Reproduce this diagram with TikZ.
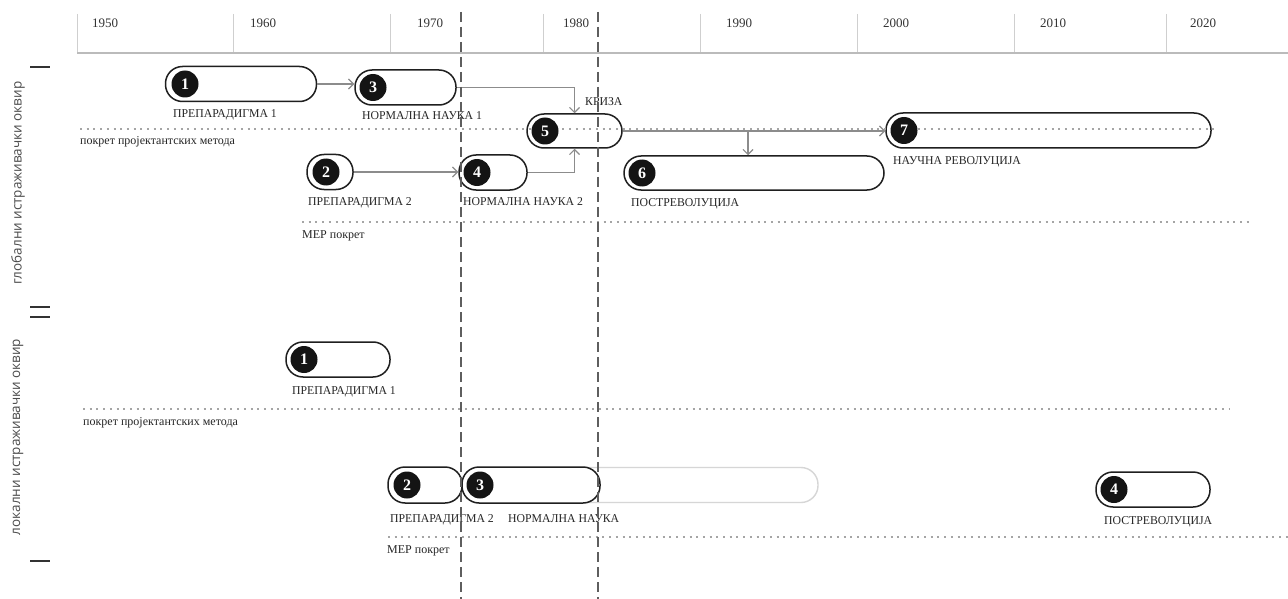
\documentclass[tikz,border=0pt]{standalone}
\usepackage{fontspec}
\setmainfont{Liberation Serif}
\newfontfamily\cond[FakeStretch=0.98]{Liberation Serif}
\newfontfamily\sidef{Open Sans}
\usetikzlibrary{arrows.meta}
\definecolor{dashc}{HTML}{5E5E5E}
\definecolor{connc}{HTML}{8C8C8C}
\definecolor{dotc}{HTML}{A5A5A5}
\definecolor{tickc}{HTML}{CFCFCF}
\definecolor{axisc}{HTML}{BBBBBB}
\definecolor{ghostc}{HTML}{D6D6D6}
\tikzset{
  pill/.style={draw=black!88, line width=1.5pt, fill=white, rectangle, rounded corners=17pt, minimum height=35pt, inner sep=0pt},
  ghost/.style={draw=ghostc, line width=1.4pt, fill=white, rectangle, rounded corners=17pt, minimum height=35pt, inner sep=0pt},
  num/.style={circle, fill=black!92, text=white, minimum size=27pt, inner sep=0pt, font=\bfseries\fontsize{16}{16}\selectfont},
  conn/.style={draw=connc, line width=1.1pt, -{Straight Barb[length=5pt,width=10pt,line width=1.1pt]}},
  dotline/.style={draw=dotc, line width=2pt, dash pattern=on 2pt off 4.7pt},
  dashv/.style={draw=dashc, line width=2.3pt, dash pattern=on 10pt off 5pt},
  lab/.style={anchor=base west, inner sep=0pt, text=black!85, font=\cond\fontsize{12}{12}\selectfont},
  slab/.style={anchor=base west, inner sep=0pt, text=black!85, font=\fontsize{12}{12}\selectfont},
  year/.style={anchor=west, inner sep=0pt, text=black!80, font=\fontsize{13}{13}\selectfont},
  ytick/.style={draw=tickc, line width=0.8pt},
  sidetick/.style={draw=black!80, line width=1.3pt},
  side/.style={rotate=90, inner sep=0pt, text=black!70, font=\sidef\fontsize{13.5}{13.5}\selectfont}
}
\begin{document}
\begin{tikzpicture}[x=1pt,y=-1pt]
\useasboundingbox (0,0) rectangle (1288,599);
\fill[white] (0,0) rectangle (1288,599);

% year axis
\foreach \xx in {77,233,390,543,700,857,1014,1166} \draw[ytick] (\xx,14) -- (\xx,52);
\draw[draw=axisc, line width=2.2pt] (77,53) -- (1288,53);
\node[year] (y1950) at (92,23) {1950};
\node[year] (y1960) at (250,23) {1960};
\node[year] (y1970) at (417,23) {1970};
\node[year] (y1980) at (563,23) {1980};
\node[year] (y1990) at (726,23) {1990};
\node[year] (y2000) at (883,23) {2000};
\node[year] (y2010) at (1040,23) {2010};
\node[year] (y2020) at (1190,23) {2020};

% side labels
\draw[sidetick] (30,67) -- (50,67);
\draw[sidetick] (30,307) -- (50,307);
\draw[sidetick] (30,317) -- (50,317);
\draw[sidetick] (30,561) -- (50,561);
\node[side] (sg) at (18,183) {глобални истраживачки оквир};
\node[side] (sl) at (18,437) {локални истраживачки оквир};

% global pills
\node[pill, minimum width=151pt] (g1) at (241,84) {};
\node[pill, minimum width=101pt] (g3) at (405.5,87.5) {};
\node[pill, minimum width=95pt, minimum height=34pt] (g5) at (574.5,131) {};
\node[pill, minimum width=46pt] (g2) at (330,172) {};
\node[pill, minimum width=68pt] (g4) at (493,172.5) {};
\node[pill, minimum width=260pt, minimum height=34pt] (g6) at (754,173) {};
\node[pill, minimum width=325pt] (g7) at (1048.5,130.5) {};

% local pills
\node[pill, minimum width=104pt] (l1) at (338,359.5) {};
\node[ghost, minimum width=356pt] (lg) at (640,485) {};
\node[pill, minimum width=74pt, minimum height=36pt] (l2) at (425,485) {};
\node[pill, minimum width=138pt, minimum height=36pt] (l3) at (531,485) {};
\node[pill, minimum width=114pt] (l4) at (1153,489.5) {};

% dotted movement lines
\draw[dotline] (80,129) -- (1215,129);
\draw[dotline] (302,222) -- (1250,222);
\draw[dotline] (83,409) -- (1230,409);
\draw[dotline] (388,537) -- (1288,537);

% connectors
\draw[conn] (g1.east) -- (g1.east -| g3.west);
\draw[conn] (g3.east) -| (g5.north);
\draw[conn] (g2.east) -- (g2.east -| g4.west);
\draw[conn] (g4.east) -| (g5.south);
\draw[conn] (g5.east) -- (g5.east -| g7.west);
\coordinate (br) at (748,131);
\draw[conn] (br) -- (br |- g6.north);

% number discs
\node[num] (n1) at (185,84) {1};
\node[num] (n3) at (373,87.5) {3};
\node[num] (n5) at (545,131) {5};
\node[num] (n2) at (326,172) {2};
\node[num] (n4) at (477,172.5) {4};
\node[num] (n6) at (642,173) {6};
\node[num] (n7) at (904,130.5) {7};
\node[num] (m1) at (304,359.5) {1};
\node[num] (m2) at (407,485) {2};
\node[num] (m3) at (480,485) {3};
\node[num] (m4) at (1114,489.5) {4};

% labels (base line positions)
\node[lab] (t1) at (173,118) {ПРЕПАРАДИГМА 1};
\node[lab] (t3) at (362,119.5) {НОРМАЛНА НАУКА 1};
\node[lab] (tk) at (585,105.5) {КРИЗА};
\node[slab] (tm1) at (80,145) {покрет пројектантских метода};
\node[lab] (t2) at (308,205) {ПРЕПАРАДИГМА 2};
\node[lab] (t4) at (463,205) {НОРМАЛНА НАУКА 2};
\node[lab] (t6) at (631,206) {ПОСТРЕВОЛУЦИЈА};
\node[lab] (t7) at (893,164.5) {НАУЧНА РЕВОЛУЦИЈА};
\node[slab] (tm2) at (302,238) {МЕР покрет};
\node[lab] (u1) at (292,394) {ПРЕПАРАДИГМА 1};
\node[slab] (um1) at (83,425) {покрет пројектантских метода};
\node[lab] (u2) at (390,522) {ПРЕПАРАДИГМА 2};
\node[lab] (u3) at (508,522) {НОРМАЛНА НАУКА};
\node[slab] (um2) at (387,553) {МЕР покрет};
\node[lab] (u4) at (1104,524.5) {ПОСТРЕВОЛУЦИЈА};

% period dashed lines
\coordinate (d1t) at (461,12);
\coordinate (d1b) at (461,599);
\coordinate (d2t) at (598,12);
\coordinate (d2b) at (598,599);
\draw[dashv] (d1t) -- (d1b);
\draw[dashv] (d2t) -- (d2b);
\end{tikzpicture}
\end{document}
